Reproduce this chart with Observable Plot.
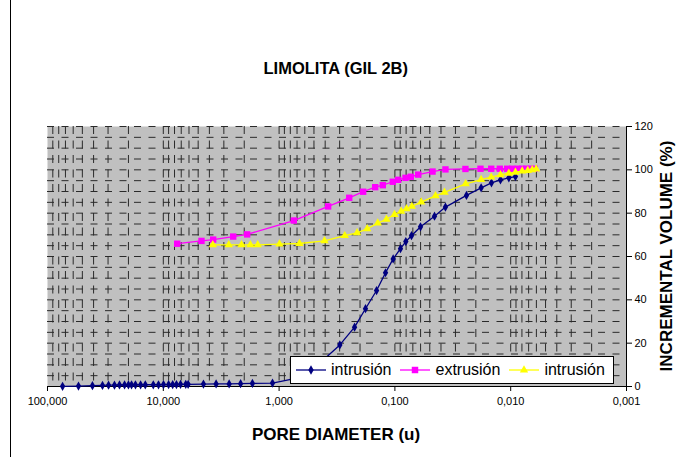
<!DOCTYPE html>
<html>
<head>
<meta charset="utf-8">
<script src="https://cdn.jsdelivr.net/npm/d3@7"></script>
<script src="https://cdn.jsdelivr.net/npm/@observablehq/plot@0.6"></script>
<style>
  body { margin: 0; background: #fff; font-family: "Liberation Sans", Arial, sans-serif; }
  #chart { position: relative; width: 685px; height: 457px; background: #fff; overflow: hidden; }
  .abs { position: absolute; white-space: nowrap; color: #000; }
  .title { font-weight: bold; font-size: 16.5px; }
  .axtitle { font-weight: bold; font-size: 17px; }
  #legend { position: absolute; left: 290px; top: 356px; width: 324px; height: 28px; background: #fff; border: 1px solid #000; box-sizing: border-box; display: flex; align-items: center; font-size: 16px; }
  #legend .item { display: flex; align-items: center; }
  #legend .item:first-child { margin-left: 5px; }
  #legend .item + .item { margin-left: 9px; }
  #legend svg { margin-right: 5px; }
</style>
</head>
<body>
<div id="chart"></div>
<script>
// ---- data ----
const titleText = "LIMOLITA (GIL 2B)";
const xTitle = "PORE DIAMETER (u)";
const yTitle = "INCREMENTAL VOLUME (%)";
const seriesNames = ["intrusión", "extrusión", "intrusión"];
const seriesColors = ["#000080", "#FF00FF", "#FFFF00"];
const xTicks = [100, 10, 1, 0.1, 0.01, 0.001];
const yTicks = [0, 20, 40, 60, 80, 100, 120];

// intrusión (navy diamonds)
const intr1D = [74.1, 54.0, 40.9, 33.5, 29.7, 26.4, 23.9, 21.6, 20.0, 18.8, 17.4, 15.7, 14.3, 12.2, 11.0, 9.96, 9.0, 8.3, 7.7, 7.1, 6.4, 6.1, 4.5, 3.5, 2.7, 2.15, 1.7, 1.14, 0.653, 0.439, 0.299, 0.223, 0.1795, 0.144, 0.1205, 0.1035, 0.0895, 0.0805, 0.0719, 0.0601, 0.0455, 0.0366, 0.0241, 0.0180, 0.01466, 0.01225, 0.01038, 0.0091];
const intr1V = [0.1, 0.2, 0.4, 0.5, 0.6, 0.6, 0.7, 0.7, 0.7, 0.8, 0.8, 0.8, 0.8, 0.8, 0.8, 0.9, 0.9, 0.9, 0.9, 1.0, 1.0, 1.0, 1.1, 1.2, 1.2, 1.3, 1.4, 1.6, 4.2, 11.1, 19.2, 27.4, 35.9, 44.3, 52.5, 58.9, 63.6, 66.9, 69.6, 73.7, 78.6, 82.8, 88.2, 91.7, 94.0, 95.4, 96.3, 96.9];

// extrusión (magenta squares)
const extrD = [7.59, 4.68, 3.71, 2.49, 1.886, 0.746, 0.377, 0.248, 0.188, 0.148, 0.1272, 0.1043, 0.0937, 0.081, 0.0729, 0.0629, 0.0473, 0.0366, 0.0246, 0.01823, 0.01473, 0.01242, 0.01072, 0.0097, 0.00869, 0.00796, 0.00731, 0.00675, 0.0062];
const extrV = [65.9, 67.2, 67.8, 69.2, 70.2, 76.6, 83.1, 87.1, 89.9, 92.0, 92.9, 94.5, 95.4, 96.3, 96.8, 97.8, 99.2, 100.2, 100.4, 100.5, 100.5, 100.5, 100.5, 100.5, 100.5, 100.5, 100.5, 100.5, 100.5];

// intrusión 2 (yellow triangles)
const intr2D = [3.74, 2.72, 2.11, 1.77, 1.53, 0.993, 0.667, 0.4055, 0.271, 0.212, 0.1735, 0.1406, 0.1183, 0.1008, 0.0883, 0.0794, 0.0714, 0.0593, 0.0446, 0.0373, 0.0245, 0.0180, 0.01473, 0.01225, 0.01038, 0.0091, 0.00796, 0.00712, 0.00652, 0.00603];
const intr2V = [65.4, 65.4, 65.4, 65.4, 65.4, 65.7, 66.0, 67.2, 69.6, 70.9, 72.8, 75.4, 77.2, 79.4, 80.9, 82.0, 83.1, 85.1, 88.0, 89.6, 93.5, 95.5, 96.6, 97.7, 98.4, 98.9, 99.4, 99.7, 100.0, 100.3];

// ---- build ----
const s1 = intr1D.map((d, i) => ({d, v: intr1V[i]}));
const s2 = extrD.map((d, i) => ({d, v: extrV[i]}));
const s3 = intr2D.map((d, i) => ({d, v: intr2V[i]}));

const minor = [];
for (const dec of [10, 1, 0.1, 0.01, 0.001]) for (let k = 1; k <= 9; k++) minor.push(dec * k);
const hGrid = d3.range(5, 125, 5);
const fmt = d => d.toFixed(3).replace(".", ",");

const plot = Plot.plot({
  width: 685, height: 457,
  marginLeft: 47, marginRight: 59, marginTop: 126, marginBottom: 71,
  style: { fontFamily: "Liberation Sans, Arial, sans-serif", fontSize: "11px", background: "transparent", overflow: "visible" },
  x: { type: "log", domain: [100, 0.001] },
  y: { domain: [0, 120] },
  marks: [
    Plot.frame({ fill: "#C0C0C0", stroke: null }),
    Plot.ruleX(minor.filter(v => v < 100 && v > 0.001), { stroke: "#2a2a2a", strokeWidth: 1, strokeDasharray: "8,6.5" }),
    Plot.ruleY(hGrid, { stroke: "#2a2a2a", strokeWidth: 1, strokeDasharray: "7,7.5" }),
    Plot.ruleY([0], { stroke: "#000" }),
    Plot.ruleX([0.001], { stroke: "#000" }),
    Plot.axisX({ ticks: xTicks, tickFormat: fmt, tickSize: 5, tickPadding: 6, label: null, fontSize: 11 }),
    Plot.axisY({ anchor: "right", ticks: yTicks, tickSize: 5, tickPadding: 3, label: null, fontSize: 11 }),
    Plot.line(s1, { x: "d", y: "v", stroke: seriesColors[0], strokeWidth: 1.3 }),
    Plot.dot(s1, { x: "d", y: "v", symbol: "diamond", r: 2.8, fill: seriesColors[0], stroke: null }),
    Plot.line(s2, { x: "d", y: "v", stroke: seriesColors[1], strokeWidth: 1.3 }),
    Plot.dot(s2, { x: "d", y: "v", symbol: "square", r: 3.6, fill: seriesColors[1], stroke: null }),
    Plot.line(s3, { x: "d", y: "v", stroke: seriesColors[2], strokeWidth: 1.3 }),
    Plot.dot(s3, { x: "d", y: "v", symbol: "triangle", r: 3.1, fill: seriesColors[2], stroke: null })
  ]
});

const chart = document.getElementById("chart");
chart.appendChild(plot);

// left border line
const border = document.createElement("div");
border.style.cssText = "position:absolute;left:10px;top:0;width:1px;height:457px;background:#000";
chart.appendChild(border);

function addText(cls, text, cx, cy, rot) {
  const el = document.createElement("div");
  el.className = "abs " + cls;
  el.textContent = text;
  chart.appendChild(el);
  const w = el.offsetWidth, h = el.offsetHeight;
  el.style.left = (cx - w / 2) + "px";
  el.style.top = (cy - h / 2) + "px";
  if (rot) el.style.transform = `rotate(${rot}deg)`;
}
addText("title", titleText, 336, 68);
addText("axtitle", xTitle, 336, 435);
addText("axtitle", yTitle, 667, 256, -90);

// legend
const legend = document.createElement("div");
legend.id = "legend";
seriesNames.forEach((name, i) => {
  const item = document.createElement("div");
  item.className = "item";
  const sw = 30;
  const g = d3.select(item).append("svg").attr("width", sw).attr("height", 12);
  g.append("line").attr("x1", 0).attr("x2", sw).attr("y1", 6).attr("y2", 6).attr("stroke", seriesColors[i]).attr("stroke-width", 1.3);
  const size = [25, 42, 30][i];
  const sym = [d3.symbolDiamond, d3.symbolSquare, d3.symbolTriangle][i];
  g.append("path").attr("d", d3.symbol(sym, size)()).attr("transform", `translate(${sw / 2},6)`).attr("fill", seriesColors[i]);
  item.appendChild(document.createTextNode(name));
  legend.appendChild(item);
});
chart.appendChild(legend);
</script>
</body>
</html>
